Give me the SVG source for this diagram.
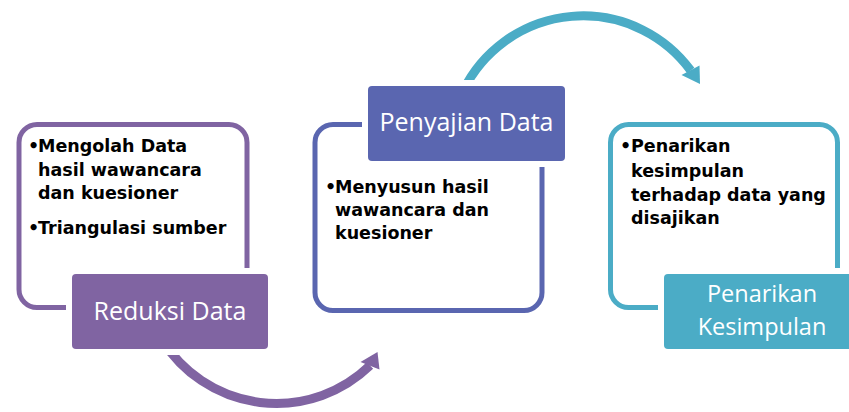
<svg xmlns="http://www.w3.org/2000/svg" width="849" height="412" viewBox="0 0 849 412">
<style>
.frame{fill:#fff;stroke-width:5}
.gap{fill:#fff}
.lbl{font-family:"Open Sans","Noto Sans","DejaVu Sans",sans-serif;font-size:25px;fill:#fff;text-anchor:middle}
.lbl2{font-size:23.5px}
.txt{font-family:"DejaVu Sans","Open Sans",sans-serif;font-weight:bold;font-size:17.5px;fill:#000}
.arc{fill:none;stroke-width:9}
.purple{stroke:#8064A2}
.blue{stroke:#5A66B0}
.teal{stroke:#4BACC6}
</style>
<rect width="849" height="412" fill="#fff"/>
<g id="connectors">
  <path class="arc purple" d="M 162.2 340 A 134.5 134.5 0 0 0 370 365.5"/>
  <polygon points="377.5,352 360.5,362 379.5,369.5" fill="#8064A2"/>
  <path class="arc teal" d="M 463.5 90 A 133.5 133.5 0 0 1 690.75 70.5"/>
  <polygon points="700,84 681.5,75 699.5,65.5" fill="#4BACC6"/>
</g>
<g id="node-reduksi">
  <rect class="frame purple" x="19" y="124.5" width="228" height="183" rx="18"/>
  <rect class="gap" x="66" y="268" width="208" height="87" rx="8"/>
  <rect x="72" y="274" width="196" height="75" rx="4" fill="#8064A2"/>
  <text class="lbl" x="170" y="320">Reduksi Data</text>
  <text class="txt" x="28" y="152"><tspan>•</tspan><tspan x="38">Mengolah Data</tspan></text>
  <text class="txt" x="38" y="176">hasil wawancara</text>
  <text class="txt" x="38" y="199">dan kuesioner</text>
  <text class="txt" x="28" y="234"><tspan>•</tspan><tspan x="38">Triangulasi sumber</tspan></text>
</g>
<g id="node-penyajian">
  <rect class="frame blue" x="315" y="124.5" width="227" height="186" rx="18"/>
  <rect class="gap" x="362" y="80" width="209" height="87" rx="8"/>
  <rect x="368" y="86" width="197" height="75" rx="4" fill="#5A66B0"/>
  <text class="lbl" x="466.5" y="131">Penyajian Data</text>
  <text class="txt" x="325" y="193"><tspan>•</tspan><tspan x="335">Menyusun hasil</tspan></text>
  <text class="txt" x="335" y="216">wawancara dan</text>
  <text class="txt" x="335" y="239">kuesioner</text>
</g>
<g id="node-penarikan">
  <rect class="frame teal" x="610.5" y="124.5" width="227" height="183" rx="18"/>
  <rect class="gap" x="658" y="268" width="208" height="87" rx="8"/>
  <rect x="664" y="274" width="196" height="75" rx="4" fill="#4BACC6"/>
  <text class="lbl lbl2" x="762" y="302">Penarikan<tspan x="762" dy="33">Kesimpulan</tspan></text>
  <text class="txt" x="620" y="152"><tspan>•</tspan><tspan x="631">Penarikan</tspan></text>
  <text class="txt" x="631" y="177">kesimpulan</text>
  <text class="txt" x="631" y="201">terhadap data yang</text>
  <text class="txt" x="631" y="224">disajikan</text>
</g>
</svg>
